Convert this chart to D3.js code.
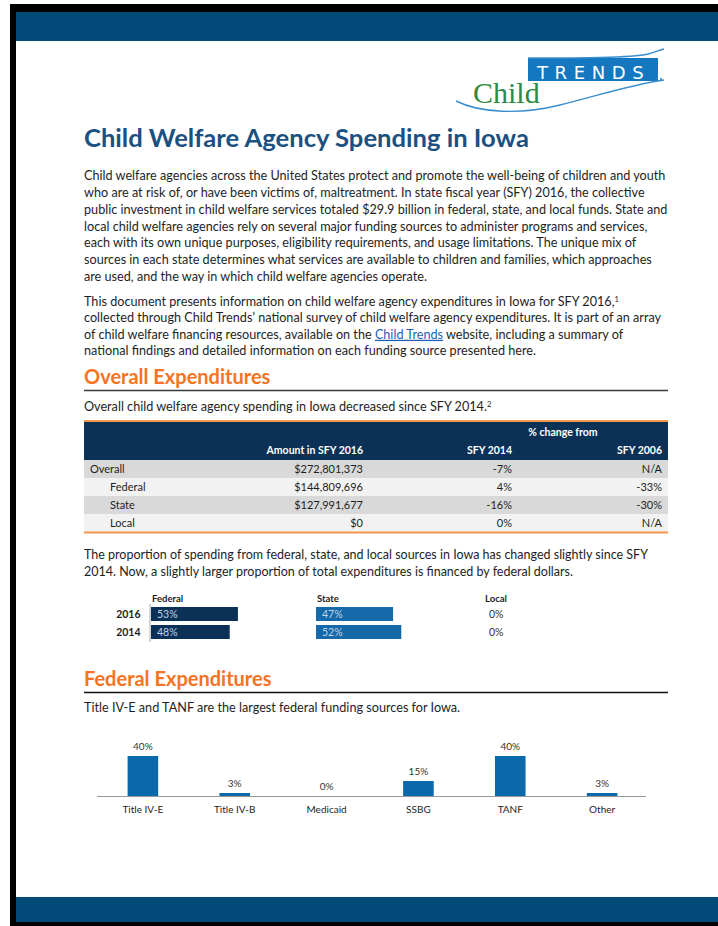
<!DOCTYPE html>
<html><head><meta charset="utf-8">
<script src="https://cdn.jsdelivr.net/npm/d3@7/dist/d3.min.js"></script>
<style>body{margin:0;background:#fff}svg{display:block}</style>
</head><body>
<script>
// ---- data ----
const tableRows = ["Overall", "Federal", "State", "Local"];
const amount2016 = ["$272,801,373", "$144,809,696", "$127,991,677", "$0"];
const change2014 = ["-7%", "4%", "-16%", "0%"];
const change2006 = ["N/A", "-33%", "-30%", "N/A"];
const years = ["2016", "2014"];
const federalShare = [53, 48];
const stateShare = [47, 52];
const localShare = [0, 0];
const fedSources = ["Title IV-E", "Title IV-B", "Medicaid", "SSBG", "TANF", "Other"];
const fedShares = [40, 3, 0, 15, 40, 3];

const W = 718, H = 926;
const font = "Lato, 'Open Sans', sans-serif";
const svg = d3.select("body").append("svg").attr("width", W).attr("height", H);

// ---- frame ----
svg.append("rect").attr("x", 10).attr("y", 4).attr("width", W - 10).attr("height", H - 4).attr("fill", "#000");
svg.append("rect").attr("x", 16).attr("y", 12).attr("width", W - 16).attr("height", 910).attr("fill", "#fff");
svg.append("rect").attr("x", 16).attr("y", 12).attr("width", W - 16).attr("height", 29).attr("fill", "#024a78");
svg.append("rect").attr("x", 16).attr("y", 897).attr("width", W - 16).attr("height", 25).attr("fill", "#024a78");

// ---- logo ----
const logo = svg.append("g");
logo.append("rect").attr("x", 528).attr("y", 58).attr("width", 130).attr("height", 23).attr("fill", "#1478c0");
logo.append("text").attr("x", 537).attr("y", 78.5).attr("fill", "#fff").attr("font-family", "'DejaVu Sans', sans-serif")
  .attr("font-size", 18).attr("letter-spacing", 6.6).text("TRENDS");
logo.append("circle").attr("cx", 661).attr("cy", 79).attr("r", 1).attr("fill", "#1478c0");
logo.append("text").attr("x", 473).attr("y", 103).attr("fill", "#2e8b42").attr("font-family", "'Liberation Serif', serif")
  .attr("font-size", 30).text("Child");
logo.append("path").attr("d", "M456,101 C480,113 520,115 560,105 C600,95 630,85 664,80")
  .attr("fill", "none").attr("stroke", "#3a8fd0").attr("stroke-width", 1.4);
logo.append("path").attr("d", "M528,58 C580,58 630,58 648,54 C655,52 660,50 664,49")
  .attr("fill", "none").attr("stroke", "#3a8fd0").attr("stroke-width", 1.4);

// ---- title ----
svg.append("text").attr("x", 84).attr("y", 147).attr("font-family", font).attr("font-weight", 700)
  .attr("font-size", 25.6).attr("fill", "#1b5181").text("Child Welfare Agency Spending in Iowa");

// ---- paragraphs ----
const bodyColor = "#1e1e1e";
function para(lines, y0, dy, size) {
  lines.forEach((ln, i) => {
    const t = svg.append("text").attr("x", 84).attr("y", y0 + i * dy).attr("font-family", font)
      .attr("font-size", size).attr("fill", bodyColor);
    ln.forEach(seg => {
      const s = t.append("tspan").text(seg.t);
      if (seg.sup) s.attr("font-size", size * 0.6).attr("baseline-shift", "super");
      if (seg.link) s.attr("fill", "#1f5fb0").attr("text-decoration", "underline");
    });
  });
}
const BS = 12.65;
const p1 = [
  "Child welfare agencies across the United States protect and promote the well-being of children and youth",
  "who are at risk of, or have been victims of, maltreatment. In state fiscal year (SFY) 2016, the collective",
  "public investment in child welfare services totaled $29.9 billion in federal, state, and local funds. State and",
  "local child welfare agencies rely on several major funding sources to administer programs and services,",
  "each with its own unique purposes, eligibility requirements, and usage limitations. The unique mix of",
  "sources in each state determines what services are available to children and families, which approaches",
  "are used, and the way in which child welfare agencies operate."
].map(s => [{t: s}]);
para(p1, 180, 16.85, BS);
const p2 = [
  [{t: "This document presents information on child welfare agency expenditures in Iowa for SFY 2016,"}, {t: "1", sup: true}],
  [{t: "collected through Child Trends\u2019 national survey of child welfare agency expenditures. It is part of an array"}],
  [{t: "of child welfare financing resources, available on the "}, {t: "Child Trends", link: true}, {t: " website, including a summary of"}],
  [{t: "national findings and detailed information on each funding source presented here."}]
];
para(p2, 306, 16.4, BS);

// ---- section heads ----
function section(title, y, ruleY, ruleColor) {
  svg.append("text").attr("x", 84).attr("y", y).attr("font-family", font).attr("font-weight", 700)
    .attr("font-size", 20).attr("fill", "#f57423").text(title);
  svg.append("line").attr("x1", 84).attr("x2", 668).attr("y1", ruleY).attr("y2", ruleY)
    .attr("stroke", ruleColor).attr("stroke-width", 1.5);
}
section("Overall Expenditures", 384, 390.5, "#3a3a3a");
para([[{t: "Overall child welfare agency spending in Iowa decreased since SFY 2014."}, {t: "2", sup: true}]], 411, 0, 12.65);

// ---- table ----
const tx0 = 84, tx1 = 668;
svg.append("rect").attr("x", tx0).attr("y", 420).attr("width", tx1 - tx0).attr("height", 2).attr("fill", "#f7954a");
svg.append("rect").attr("x", tx0).attr("y", 422).attr("width", tx1 - tx0).attr("height", 38).attr("fill", "#0b3157");
const hdr = svg.append("g").attr("font-family", font).attr("font-weight", 700).attr("font-size", 10.5).attr("fill", "#fff");
hdr.append("text").attr("x", 563).attr("y", 435.5).attr("text-anchor", "middle").text("% change from");
const colX = [363, 512, 662];
const colHdr = ["Amount in SFY 2016", "SFY 2014", "SFY 2006"];
colHdr.forEach((h, i) => hdr.append("text").attr("x", colX[i]).attr("y", 454).attr("text-anchor", "end").text(h));

const ry = d3.scaleBand().domain(tableRows).range([460, 532]);
const rows = svg.append("g").selectAll("g").data(tableRows).join("g")
  .attr("transform", d => `translate(0,${ry(d)})`);
rows.append("rect").attr("x", tx0).attr("width", tx1 - tx0).attr("height", ry.bandwidth())
  .attr("fill", (d, i) => i % 2 === 0 ? "#d9d9d9" : "#f2f2f2");
const rtext = (sel) => sel.attr("font-family", font).attr("font-size", 11).attr("fill", "#1e1e1e").attr("y", ry.bandwidth() / 2 + 4);
rows.append("text").call(rtext).attr("x", (d, i) => i === 0 ? 90 : 110).text(d => d);
rows.append("text").call(rtext).attr("x", colX[0]).attr("text-anchor", "end").text((d, i) => amount2016[i]);
rows.append("text").call(rtext).attr("x", colX[1]).attr("text-anchor", "end").text((d, i) => change2014[i]);
rows.append("text").call(rtext).attr("x", colX[2]).attr("text-anchor", "end").text((d, i) => change2006[i]);
svg.append("rect").attr("x", tx0).attr("y", 531.5).attr("width", tx1 - tx0).attr("height", 2).attr("fill", "#f7954a");

// ---- proportion text ----
para([
  [{t: "The proportion of spending from federal, state, and local sources in Iowa has changed slightly since SFY"}],
  [{t: "2014. Now, a slightly larger proportion of total expenditures is financed by federal dollars."}]
], 559, 16.8, 12.5);

// ---- proportion bars ----
const sx = d3.scaleLinear().domain([0, 100]).range([0, 164]);
const sy = d3.scaleBand().domain(years).range([605, 641]).paddingInner(0.222).paddingOuter(0.111);
const groups = [
  {name: "Federal", x: 151, vals: federalShare, color: "#0b3157"},
  {name: "State", x: 316, vals: stateShare, color: "#1569a8"},
  {name: "Local", x: 484, vals: localShare, color: "#1569a8"}
];
const pg = svg.append("g").attr("font-family", font);
pg.selectAll("text.yr").data(years).join("text").attr("class", "yr")
  .attr("x", 140.5).attr("y", d => sy(d) + sy.bandwidth() / 2 + 3.8).attr("text-anchor", "end")
  .attr("font-size", 10.5).attr("font-weight", 700).attr("fill", "#1e1e1e").text(d => d);
pg.append("line").attr("x1", 150).attr("x2", 150).attr("y1", 604).attr("y2", 642).attr("stroke", "#aaa").attr("stroke-width", 1);
groups.forEach(g => {
  pg.append("text").attr("x", g.x + 1).attr("y", 601.5).attr("font-size", 9.5).attr("font-weight", 700)
    .attr("fill", "#1e1e1e").text(g.name);
  g.vals.forEach((v, i) => {
    const yy = sy(years[i]);
    if (v > 0) {
      pg.append("rect").attr("x", g.x).attr("y", yy).attr("width", sx(v)).attr("height", sy.bandwidth()).attr("fill", g.color);
      pg.append("text").attr("x", g.x + 6).attr("y", yy + sy.bandwidth() / 2 + 3.8).attr("font-size", 10.5)
        .attr("fill", "#c3d3e6").text(v + "%");
    } else {
      pg.append("text").attr("x", g.x + 5).attr("y", yy + sy.bandwidth() / 2 + 3.8).attr("font-size", 10.5)
        .attr("fill", "#333").text(v + "%");
    }
  });
});

// ---- federal expenditures ----
section("Federal Expenditures", 686, 692.5, "#111");
para([[{t: "Title IV-E and TANF are the largest federal funding sources for Iowa."}]], 712, 0, 12.65);

const fx = d3.scaleBand().domain(fedSources).range([97, 648]).paddingInner(0.667).paddingOuter(0.333);
const fy = d3.scaleLinear().domain([0, 40]).range([796, 756]);
const fg = svg.append("g").attr("font-family", font);
fg.selectAll("rect").data(fedSources).join("rect")
  .attr("x", d => fx(d)).attr("width", fx.bandwidth())
  .attr("y", (d, i) => fy(fedShares[i])).attr("height", (d, i) => fy(0) - fy(fedShares[i]))
  .attr("fill", "#0b69aa");
fg.append("line").attr("x1", 97).attr("x2", 646).attr("y1", 796.5).attr("y2", 796.5).attr("stroke", "#999").attr("stroke-width", 1.2);
fg.selectAll("text.v").data(fedSources).join("text").attr("class", "v")
  .attr("x", d => fx(d) + fx.bandwidth() / 2).attr("y", (d, i) => fy(fedShares[i]) - 6.5)
  .attr("text-anchor", "middle").attr("font-size", 10).attr("fill", "#333").text((d, i) => fedShares[i] + "%");
fg.selectAll("text.c").data(fedSources).join("text").attr("class", "c")
  .attr("x", d => fx(d) + fx.bandwidth() / 2).attr("y", 813)
  .attr("text-anchor", "middle").attr("font-size", 10).attr("fill", "#1e1e1e").text(d => d);
</script>
</body></html>
